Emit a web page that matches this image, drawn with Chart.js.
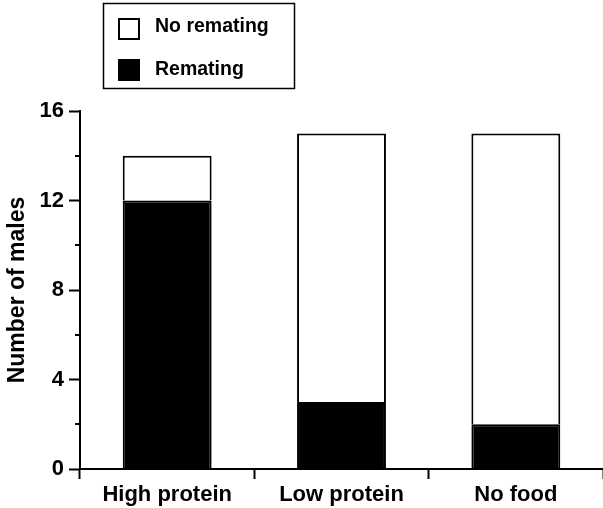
<!DOCTYPE html>
<html>
<head>
<meta charset="utf-8">
<script src="https://cdn.jsdelivr.net/npm/chart.js@4/dist/chart.umd.min.js"></script>
<style>
  html, body { margin: 0; padding: 0; background: #fff; }
  #wrap { width: 603px; height: 508px; position: relative; }
</style>
</head>
<body>
<div id="wrap"><canvas id="c" width="603" height="508"></canvas></div>
<script>
const categories = ["High protein", "Low protein", "No food"];
const rematingValues = [12, 3, 2];
const noRematingValues = [2, 12, 13];
const seriesLabels = ["Remating", "No remating"];
const yTicksMajor = [0, 4, 8, 12, 16];
const yTicksMinor = [2, 6, 10, 14];
const yTitle = "Number of males";

const FONT = "'Liberation Sans', Arial, Helvetica, sans-serif";

const minorTicksPlugin = {
  id: 'minorTicks',
  afterDraw(chart) {
    const y = chart.scales.y;
    const ctx = chart.ctx;
    ctx.save();
    ctx.strokeStyle = '#000';
    ctx.lineWidth = 2;
    yTicksMinor.forEach(v => {
      const py = Math.round(y.getPixelForValue(v));
      ctx.beginPath();
      ctx.moveTo(y.right - 5, py);
      ctx.lineTo(y.right, py);
      ctx.stroke();
    });
    ctx.restore();
  }
};

const boxLegendPlugin = {
  id: 'boxLegend',
  afterDraw(chart) {
    const ctx = chart.ctx;
    ctx.save();
    ctx.strokeStyle = '#000';
    ctx.lineWidth = 1.5;
    ctx.strokeRect(103.5, 3.5, 191, 85);
    const items = [chart.data.datasets[1], chart.data.datasets[0]];
    const rows = [{sq: 19, base: 32}, {sq: 60, base: 75}];
    ctx.font = "bold 19.5px " + FONT;
    ctx.textBaseline = 'alphabetic';
    ctx.textAlign = 'left';
    items.forEach((ds, i) => {
      const r = rows[i];
      ctx.fillStyle = ds.backgroundColor;
      ctx.fillRect(119, r.sq, 20, 20);
      ctx.lineWidth = 2;
      ctx.strokeStyle = '#000';
      ctx.strokeRect(119, r.sq, 20, 20);
      ctx.fillStyle = '#000';
      ctx.fillText(ds.label, 155, r.base);
    });
    ctx.restore();
  }
};

new Chart(document.getElementById('c'), {
  type: 'bar',
  data: {
    labels: categories,
    datasets: [
      {
        label: seriesLabels[0],
        data: rematingValues,
        backgroundColor: '#000000',
        borderColor: '#000000',
        borderWidth: 2,
        categoryPercentage: 1,
        barPercentage: 0.51
      },
      {
        label: seriesLabels[1],
        data: noRematingValues,
        backgroundColor: '#ffffff',
        borderColor: '#000000',
        borderWidth: 2,
        categoryPercentage: 1,
        barPercentage: 0.51
      }
    ]
  },
  options: {
    responsive: false,
    animation: false,
    devicePixelRatio: 1,
    layout: { padding: { top: 111, right: 0, left: 0, bottom: 0 } },
    plugins: {
      legend: { display: false },
      tooltip: { enabled: false }
    },
    scales: {
      x: {
        stacked: true,
        grid: {
          offset: true,
          drawOnChartArea: false,
          drawTicks: true,
          tickLength: 10,
          tickWidth: 2,
          tickColor: '#000'
        },
        border: { display: true, color: '#000', width: 2 },
        ticks: {
          color: '#000',
          padding: 3,
          font: { family: FONT, size: 22, weight: 'bold' },
          maxRotation: 0
        },
        afterFit(s) { s.height = 39; }
      },
      y: {
        stacked: true,
        min: 0,
        max: 16,
        afterBuildTicks(s) { s.ticks = yTicksMajor.map(v => ({ value: v })); },
        grid: {
          drawOnChartArea: false,
          drawTicks: true,
          tickLength: 11,
          tickWidth: 2,
          tickColor: '#000'
        },
        border: { display: true, color: '#000', width: 2 },
        ticks: {
          color: '#000',
          padding: 5,
          font: { family: FONT, size: 22, weight: 'bold' }
        },
        title: {
          display: true,
          text: yTitle,
          color: '#000',
          padding: { top: 4, bottom: 0 },
          font: { family: FONT, size: 23, weight: 'bold' }
        },
        afterFit(s) { s.width = 80; }
      }
    }
  },
  plugins: [minorTicksPlugin, boxLegendPlugin]
});
</script>
</body>
</html>
